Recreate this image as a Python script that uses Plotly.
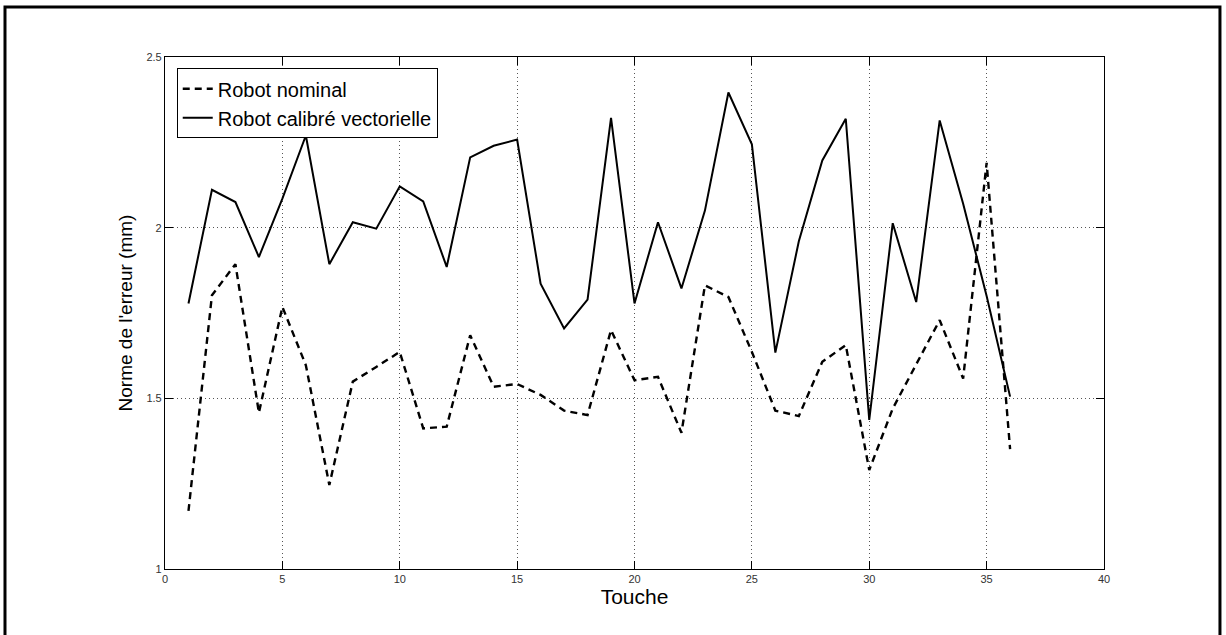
import plotly.graph_objects as go

# Touch index (1..36)
touches = list(range(1, 37))

# Error norm (mm) for the nominal robot
nominal = [1.17, 1.802, 1.893, 1.458, 1.768, 1.597, 1.246, 1.549, 1.592, 1.636,
           1.412, 1.417, 1.685, 1.534, 1.542, 1.51, 1.464, 1.451, 1.70, 1.553,
           1.563, 1.399, 1.831, 1.797, 1.636, 1.464, 1.448, 1.607, 1.656, 1.29,
           1.47, 1.60, 1.729, 1.558, 2.19, 1.351]

# Error norm (mm) for the vector-calibrated robot
calibrated = [1.778, 2.111, 2.075, 1.914, 2.085, 2.27, 1.893, 2.016, 1.997, 2.121,
              2.077, 1.885, 2.206, 2.24, 2.258, 1.836, 1.705, 1.789, 2.322, 1.778,
              2.016, 1.822, 2.05, 2.396, 2.244, 1.634, 1.96, 2.197, 2.319, 1.437,
              2.013, 1.782, 2.314, 2.07, 1.80, 1.505]

x_ticks = [0, 5, 10, 15, 20, 25, 30, 35, 40]
y_ticks = [1, 1.5, 2, 2.5]
y_tick_text = ["1", "1.5", "2", "2.5"]

FONT = "Liberation Sans, Arial, sans-serif"

fig = go.Figure()
fig.add_trace(go.Scatter(
    x=touches, y=nominal, mode="lines", name="Robot nominal",
    line=dict(color="black", width=2.4, dash="7px,5px"),
))
fig.add_trace(go.Scatter(
    x=touches, y=calibrated, mode="lines", name="Robot calibré vectorielle",
    line=dict(color="black", width=2),
))

axis_common = dict(
    showline=True, linecolor="black", linewidth=1.2, mirror="ticks",
    ticks="inside", ticklen=8, tickwidth=1.2, tickcolor="black",
    showgrid=True, gridcolor="#555", griddash="1px,3px", gridwidth=1,
    zeroline=False,
    tickfont=dict(family=FONT, size=11, color="#333"),
)

fig.update_xaxes(
    range=[0, 40], tickmode="array", tickvals=x_ticks,
    title=dict(text="Touche", font=dict(family=FONT, size=21, color="black"), standoff=4),
    **axis_common,
)
fig.update_yaxes(
    range=[1, 2.5], tickmode="array", tickvals=y_ticks, ticktext=y_tick_text,
    title=dict(text="Norme de l'erreur (mm)", font=dict(family=FONT, size=19, color="black"), standoff=8),
    **axis_common,
)

# Outer frame around the whole figure
fig.add_shape(
    type="rect", xref="paper", yref="paper",
    x0=-0.1704, x1=1.1235, y0=-0.15, y1=1.0977,
    line=dict(color="black", width=3), layer="below",
)

fig.update_layout(
    width=1226, height=635,
    margin=dict(l=165, r=122, t=57, b=66),
    paper_bgcolor="white", plot_bgcolor="white",
    font=dict(family=FONT, color="black"),
    showlegend=True,
    legend=dict(
        x=0.0125, y=0.978, xanchor="left", yanchor="top",
        bordercolor="black", borderwidth=1, bgcolor="white",
        font=dict(family=FONT, size=20, color="black"),
        itemwidth=30, tracegroupgap=0,
    ),
)

fig.write_html("out.html")
